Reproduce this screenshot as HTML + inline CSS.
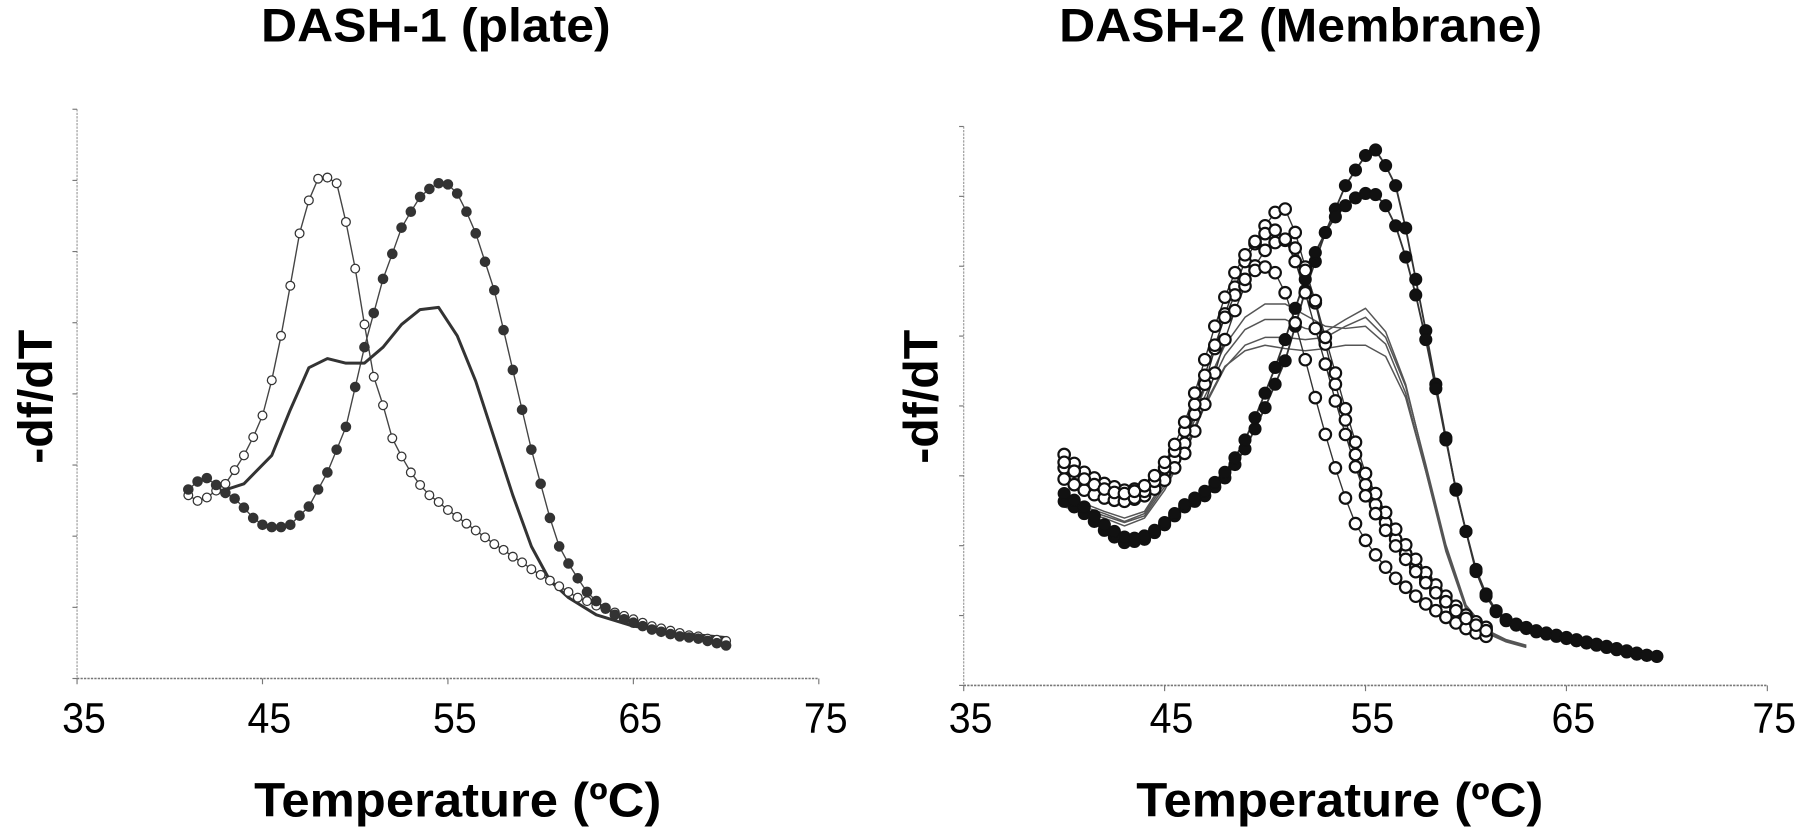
<!DOCTYPE html>
<html><head><meta charset="utf-8"><style>
html,body{margin:0;padding:0;background:#fff;}
svg{display:block;}
text{font-family:"Liberation Sans",Arial,sans-serif;fill:#000;}
</style></head><body>
<svg id="fig" width="1800" height="828" viewBox="0 0 1565.2 720" preserveAspectRatio="none">
<text x="379" y="36" font-size="41" font-weight="bold" text-anchor="middle" textLength="304" lengthAdjust="spacingAndGlyphs">DASH-1 (plate)</text>
<text x="1131" y="36" font-size="41" font-weight="bold" text-anchor="middle" textLength="420" lengthAdjust="spacingAndGlyphs">DASH-2 (Membrane)</text>
<text transform="translate(45,345) rotate(-90)" font-size="42" font-weight="bold" text-anchor="middle">-df/dT</text>
<text transform="translate(815,345) rotate(-90)" font-size="42" font-weight="bold" text-anchor="middle">-df/dT</text>
<text x="398" y="710" font-size="42" font-weight="bold" text-anchor="middle" textLength="354" lengthAdjust="spacingAndGlyphs">Temperature (ºC)</text>
<text x="1165" y="710" font-size="42" font-weight="bold" text-anchor="middle" textLength="354" lengthAdjust="spacingAndGlyphs">Temperature (ºC)</text>
<g id="left"></g>
<g id="right"></g>
</svg>
<script>
const xTicks = [35, 45, 55, 65, 75];
const xTickLabels = ["35", "45", "55", "65", "75"];
const yTickCount = 8;

// DASH-1 (plate)
const l1Temps = [41,41.5,42,42.5,43,43.5,44,44.5,45,45.5,46,46.5,47,47.5,48,48.5,49,49.5,50,50.5,51,51.5,52,52.5,53,53.5,54,54.5,55,55.5,56,56.5,57,57.5,58,58.5,59,59.5,60,60.5,61,61.5,62,62.5,63,63.5,64,64.5,65,65.5,66,66.5,67,67.5,68,68.5,69,69.5,70];
const l1Open = [161,156,159,165,171,183,196,212,231,262,301,345,391,420,439,440,435,401,360,311,265,240,211,195,181,170,161,155,148,142,136,130,124,118,113,107,102,96,91,86,81,76,71,68,64,61,58,55,52,49,46,44,42,40,38,37,35,34,33];
const l1Filled = [166,173,176,170,163,158,150,141,135,133,133,135,143,151,166,181,201,221,256,291,321,351,373,396,410,423,430,435,434,426,410,391,366,341,306,271,236,201,171,141,116,101,88,76,68,62,56,52,49,46,43,41,39,37,36,35,33,31,29];
const l1LineTemps = [42.5,44,45.5,46.5,47.5,48.5,49.5,50.5,51.5,52.5,53.5,54.5,55.5,56.5,57.5,58.5,59.5,60.5,61.5,63,65,68,70];
const l1Line = [163,171,196,236,273,281,277,277,291,311,324,326,301,261,211,161,116,86,71,56,46,39,36];

// DASH-2 (membrane)
const r2OpenTemps = [40,40.5,41,41.5,42,42.5,43,43.5,44,44.5,45,45.5,46,46.5,47,47.5,48,48.5,49,49.5,50,50.5,51,51.5,52,52.5,53,53.5,54,54.5,55,55.5,56,56.5,57,57.5,58,58.5,59,59.5,60,60.5,61];
const r2OpenA = [207,199,191,186,181,178,175,176,177,183,191,203,217,243,270,302,333,357,380,396,412,424,427,406,375,343,306,270,238,207,180,162,146,131,118,106,95,85,76,68,61,55,50];
const r2OpenB = [195,188,182,176,172,168,166,167,170,176,184,195,208,228,252,280,310,336,358,376,390,397,399,392,372,345,312,280,248,218,190,172,155,140,126,113,101,90,80,71,63,57,52];
const r2OpenC = [185,180,175,171,168,166,165,168,174,183,195,210,228,252,278,305,330,350,364,372,375,370,352,325,292,258,225,195,168,145,130,117,106,96,88,80,73,67,61,56,51,47,44];
const r2OpenD = [200,192,185,180,176,173,172,174,179,188,200,216,236,262,292,322,348,370,386,398,405,408,400,380,352,320,288,255,225,196,170,154,139,125,113,102,92,83,75,67,60,54,49];
const r2FilledTemps = [40,40.5,41,41.5,42,42.5,43,43.5,44,44.5,45,45.5,46,46.5,47,47.5,48,48.5,49,49.5,50,50.5,51,51.5,52,52.5,53,53.5,54,54.5,55,55.5,56,56.5,57,57.5,58,58.5,59,59.5,60,60.5,61,61.5,62,62.5,63,63.5,64,64.5,65,65.5,66,66.5,67,67.5,68,68.5,69,69.5];
const r2FilledA = [165,160,154,147,139,133,128,129,131,137,144,152,160,165,170,178,186,198,212,230,249,270,291,322,354,380,406,427,448,462,475,480,466,448,410,364,318,270,222,175,138,102,80,66,58,54,51,48,46,44,42,40,38,36,34,32,30,28,27,26];
const r2FilledB = [172,166,160,152,144,138,133,132,134,139,146,154,162,168,174,182,191,204,220,240,262,285,310,338,364,388,406,420,430,437,441,440,430,412,384,350,310,266,220,176,138,104,82,67,59,55,52,49,47,45,43,41,39,37,35,33,31,29,27,26];
const r2LineTemps = [40,41,42,43,44,45,46,47,48,49,50,51,52,53,54,55,56,57,58,59,60,61,62,63];
const r2LineA = [165,160,154,147,154,181,217,259,296,319,328,328,320,317,328,338,317,270,196,123,70,48,40,35];
const r2LineB = [160,155,150,143,150,175,210,250,285,305,312,312,310,312,322,330,312,268,198,126,72,50,41,36];
const r2LineC = [170,163,156,150,156,184,222,266,305,330,342,342,332,322,320,322,306,262,192,120,68,47,39,34];
const r2LineD = [162,158,152,146,152,178,212,252,286,300,305,302,300,302,305,305,295,258,192,122,70,49,40,35];

const NS = "http://www.w3.org/2000/svg";
function mk(tag, attrs, parent) {
  const e = document.createElementNS(NS, tag);
  for (const k in attrs) e.setAttribute(k, attrs[k]);
  parent.appendChild(e);
  return e;
}

function makeAxes(g, X, Y, x0, yTop, yBot, side) {
  const xEnd = X(75);
  const ax = mk('line', {x1: x0, y1: yBot, x2: xEnd, y2: yBot, stroke: '#777', 'stroke-width': 1.4, 'stroke-dasharray': '2,1'}, g);
  
  
  const ay = mk('line', {x1: x0, y1: yTop, x2: x0, y2: yBot, stroke: '#999', 'stroke-width': 1, 'stroke-dasharray': '2,1'}, g);
  
  
  for (let k = 0; k <= yTickCount; k++) {
    const yy = yTop + (yBot - yTop) * k / yTickCount;
    const t = mk('line', {x1: x0 - 4, y1: yy, x2: x0, y2: yy, stroke: '#777', 'stroke-width': 1}, g);
    
    
  }
  xTicks.forEach((v, i) => {
    const xx = X(v);
    const t = mk('line', {x1: xx, y1: yBot, x2: xx, y2: yBot + 5, stroke: '#777', 'stroke-width': 1}, g);
    
    
    const lb = mk('text', {x: xx + 6, y: 637, 'font-size': 37, 'text-anchor': 'middle', textLength: 38, lengthAdjust: 'spacingAndGlyphs'}, g);
    lb.textContent = xTickLabels[i];
    
    
  });
}

function drawLine(g, X, Y, temps, vals, stroke, w, name) {
  const d = temps.map((t, i) => (i ? 'L' : 'M') + X(t).toFixed(1) + ',' + Y(vals[i]).toFixed(1)).join(' ');
  const p = mk('path', {d: d, fill: 'none', stroke: stroke, 'stroke-width': w, 'stroke-linejoin': 'round'}, g);
  
  
}

function drawMarkers(g, X, Y, temps, vals, filled, r, sw, color, name) {
  const grp = mk('g', {}, g);
  
  
  temps.forEach((t, i) => {
    const c = mk('circle', {cx: X(t), cy: Y(vals[i]), r: r, fill: filled ? color : '#fff', stroke: color, 'stroke-width': sw}, grp);
    
    
  });
}

// Left chart
const gL = document.getElementById('left');
const XL = t => 67 + (t - 35) * 16.125;
const YL = v => 590 - v * 0.99;
makeAxes(gL, XL, YL, 67, 95, 590, 'left');
drawLine(gL, XL, YL, l1Temps, l1Open, '#444', 1.2, 'left-open-series-line');
drawLine(gL, XL, YL, l1Temps, l1Filled, '#444', 1.2, 'left-filled-series-line');
drawLine(gL, XL, YL, l1LineTemps, l1Line, '#333', 2.6, 'left-plain-series-line');
drawMarkers(gL, XL, YL, l1Temps, l1Open, false, 3.8, 1.1, '#333', 'left-open-series');
drawMarkers(gL, XL, YL, l1Temps, l1Filled, true, 4.2, 0.8, '#333', 'left-filled-series');

// Right chart
const gR = document.getElementById('right');
const XR = t => 838 + (t - 35) * 17.47;
const YR = v => 596 - v * 0.97;
makeAxes(gR, XR, YR, 838, 110, 596, 'right');
[r2LineA, r2LineB, r2LineC, r2LineD].forEach((s, i) => drawLine(gR, XR, YR, r2LineTemps, s, '#555', 1.3, 'right-plain-line-' + (i + 1)));
[r2FilledA, r2FilledB].forEach((s, i) => drawLine(gR, XR, YR, r2FilledTemps, s, '#333', 1.6, 'right-filled-line-' + (i + 1)));
[r2OpenA, r2OpenB, r2OpenC, r2OpenD].forEach((s, i) => drawLine(gR, XR, YR, r2OpenTemps, s, '#333', 1.2, 'right-open-line-' + (i + 1)));
[r2FilledA, r2FilledB].forEach((s, i) => drawMarkers(gR, XR, YR, r2FilledTemps, s, true, 5.2, 1, '#111', 'right-filled-series-' + (i + 1)));
[r2OpenA, r2OpenB, r2OpenC, r2OpenD].forEach((s, i) => drawMarkers(gR, XR, YR, r2OpenTemps, s, false, 5, 1.9, '#111', 'right-open-series-' + (i + 1)));
</script>
</body></html>
